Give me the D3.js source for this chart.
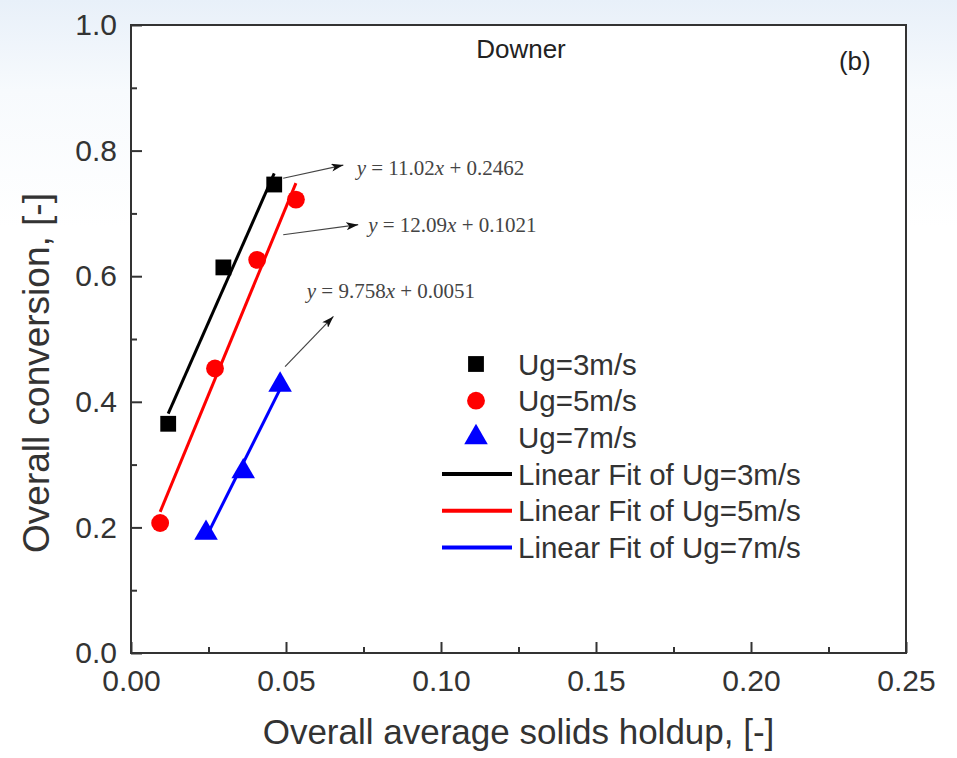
<!DOCTYPE html>
<html>
<head>
<meta charset="utf-8">
<script src="https://cdn.jsdelivr.net/npm/d3@7"></script>
<style>
  html, body { margin: 0; padding: 0; background: #fff; }
  svg { display: block; font-family: "Liberation Sans", Arial, sans-serif; }
</style>
</head>
<body>
<svg id="chart" width="957" height="758"></svg>
<script>
// data
const ug3Holdup = [0.0120, 0.0298, 0.0462];
const ug3Conv = [0.365, 0.614, 0.746];
const ug5Holdup = [0.0094, 0.0271, 0.0407, 0.0532];
const ug5Conv = [0.207, 0.453, 0.626, 0.722];
const ug7Holdup = [0.0242, 0.0362, 0.0481];
const ug7Conv = [0.191, 0.289, 0.427];

const seriesNames = ['Ug=3m/s', 'Ug=5m/s', 'Ug=7m/s'];
const seriesColors = ['#000000', '#ff0000', '#0000ff'];
const seriesSymbols = [d3.symbolSquare, d3.symbolCircle, d3.symbolTriangle];
const symbolSizes = [250, 250, 240];

// fit equation text and annotation anchors (data units)
const eqSlopes = ['11.02', '12.09', '9.758'];
const eqIntercepts = ['0.2462', '0.1021', '0.0051'];
const arrowFrom = [[0.0491, 0.756], [0.0491, 0.666], [0.0497, 0.456]];
const arrowTo = [[0.0685, 0.777], [0.0733, 0.682], [0.0653, 0.536]];
const eqAt = [[0.0728, 0.761], [0.0765, 0.671], [0.0567, 0.565]];

const xTicks = [0, 0.05, 0.10, 0.15, 0.20, 0.25];
const yTicks = [0, 0.2, 0.4, 0.6, 0.8, 1.0];
const xMinor = [0.025, 0.075, 0.125, 0.175, 0.225];
const yMinor = [0.1, 0.3, 0.5, 0.7, 0.9];

const width = 957, height = 758;
const margin = { left: 131, right: 51, top: 25, bottom: 105 };
const ink = '#333';

const svg = d3.select('#chart');

const defs = svg.append('defs');
const grad = defs.append('linearGradient')
    .attr('id', 'bg').attr('x1', 0).attr('y1', 0).attr('x2', 0).attr('y2', 1);
grad.append('stop').attr('offset', '0').attr('stop-color', '#e8f0f9');
grad.append('stop').attr('offset', '0.12').attr('stop-color', '#f7fafd');
grad.append('stop').attr('offset', '0.3').attr('stop-color', '#ffffff');
defs.append('marker')
    .attr('id', 'arrow')
    .attr('viewBox', '0 0 12 8')
    .attr('refX', 12).attr('refY', 4)
    .attr('markerWidth', 12).attr('markerHeight', 8)
    .attr('markerUnits', 'userSpaceOnUse')
    .attr('orient', 'auto')
    .append('path')
    .attr('d', 'M0,0 L12,4 L0,8 L3,4 Z')
    .attr('fill', '#111');

svg.append('rect').attr('width', width).attr('height', height).attr('fill', 'url(#bg)');

const x = d3.scaleLinear().domain([0, 0.25]).range([margin.left, width - margin.right]);
const y = d3.scaleLinear().domain([0, 1]).range([height - margin.bottom, margin.top]);

svg.append('rect')
    .attr('x', x(0)).attr('y', y(1))
    .attr('width', x(0.25) - x(0)).attr('height', y(0) - y(1))
    .attr('fill', '#fff');

// axes
const xAxis = svg.append('g')
    .attr('transform', `translate(0,${y(0)})`)
    .call(d3.axisBottom(x).tickValues(xTicks).tickFormat(d3.format('.2f'))
        .tickSizeInner(-11).tickSizeOuter(0).tickPadding(17));
const xMinorAxis = svg.append('g')
    .attr('transform', `translate(0,${y(0)})`)
    .call(d3.axisBottom(x).tickValues(xMinor).tickFormat('')
        .tickSizeInner(-6).tickSizeOuter(0));
const yAxis = svg.append('g')
    .attr('transform', `translate(${x(0)},0)`)
    .call(d3.axisLeft(y).tickValues(yTicks).tickFormat(d3.format('.1f'))
        .tickSizeInner(-11).tickSizeOuter(0).tickPadding(14));
const yMinorAxis = svg.append('g')
    .attr('transform', `translate(${x(0)},0)`)
    .call(d3.axisLeft(y).tickValues(yMinor).tickFormat('')
        .tickSizeInner(-6).tickSizeOuter(0));

[xAxis, xMinorAxis, yAxis, yMinorAxis].forEach(g => {
    g.select('.domain').remove();
    g.selectAll('line').attr('stroke', ink).attr('stroke-width', 2);
    g.selectAll('text')
        .attr('font-family', '"Liberation Sans", Arial, sans-serif')
        .attr('font-size', 30)
        .attr('fill', ink);
});

// frame
svg.append('rect')
    .attr('x', x(0)).attr('y', y(1))
    .attr('width', x(0.25) - x(0)).attr('height', y(0) - y(1))
    .attr('fill', 'none').attr('stroke', ink).attr('stroke-width', 2);

// axis titles
svg.append('text')
    .attr('x', (x(0) + x(0.25)) / 2).attr('y', 744)
    .attr('text-anchor', 'middle')
    .attr('font-size', 35).attr('fill', ink)
    .text('Overall average solids holdup, [-]');

svg.append('text')
    .attr('transform', `translate(49,${(y(0) + y(1)) / 2 + 34}) rotate(-90)`)
    .attr('text-anchor', 'middle')
    .attr('font-size', 37).attr('fill', ink)
    .text('Overall conversion, [-]');

// panel labels
svg.append('text')
    .attr('x', x(0.1258)).attr('y', y(0.948))
    .attr('text-anchor', 'middle')
    .attr('font-size', 26).attr('fill', '#222')
    .text('Downer');
svg.append('text')
    .attr('x', x(0.2335)).attr('y', y(0.929))
    .attr('text-anchor', 'middle')
    .attr('font-size', 26).attr('fill', '#222')
    .text('(b)');

const series = [
    { xs: ug3Holdup, ys: ug3Conv },
    { xs: ug5Holdup, ys: ug5Conv },
    { xs: ug7Holdup, ys: ug7Conv },
].map((s, i) => ({
    name: seriesNames[i],
    color: seriesColors[i],
    symbol: seriesSymbols[i],
    size: symbolSizes[i],
    points: s.xs.map((v, j) => [v, s.ys[j]]),
}));

// least squares fit over the data range
function linearFit(points) {
    const mx = d3.mean(points, p => p[0]);
    const my = d3.mean(points, p => p[1]);
    const sxy = d3.sum(points, p => (p[0] - mx) * (p[1] - my));
    const sxx = d3.sum(points, p => (p[0] - mx) ** 2);
    const b = sxy / sxx;
    const a = my - b * mx;
    const [x0, x1] = d3.extent(points, p => p[0]);
    return [[x0, a + b * x0], [x1, a + b * x1]];
}

const line = d3.line().x(d => x(d[0])).y(d => y(d[1]));

series.forEach(s => {
    svg.append('path')
        .datum(linearFit(s.points))
        .attr('d', line)
        .attr('fill', 'none')
        .attr('stroke', s.color)
        .attr('stroke-width', 3);
});

series.forEach(s => {
    svg.append('g')
        .selectAll('path')
        .data(s.points)
        .enter()
        .append('path')
        .attr('transform', d => `translate(${x(d[0])},${y(d[1])})`)
        .attr('d', d3.symbol().type(s.symbol).size(s.size))
        .attr('fill', s.color);
});

// annotation arrows + equations
eqSlopes.forEach((slope, i) => {
    svg.append('line')
        .attr('x1', x(arrowFrom[i][0])).attr('y1', y(arrowFrom[i][1]))
        .attr('x2', x(arrowTo[i][0])).attr('y2', y(arrowTo[i][1]))
        .attr('stroke', '#444').attr('stroke-width', 1.2)
        .attr('marker-end', 'url(#arrow)');

    const t = svg.append('text')
        .attr('x', x(eqAt[i][0])).attr('y', y(eqAt[i][1]))
        .attr('font-family', '"Liberation Serif", "Times New Roman", serif')
        .attr('font-size', 21).attr('fill', '#444');
    t.append('tspan').attr('font-style', 'italic').text('y');
    t.append('tspan').text(` = ${slope}`);
    t.append('tspan').attr('font-style', 'italic').text('x');
    t.append('tspan').text(` + ${eqIntercepts[i]}`);
});

// legend
const legend = svg.append('g');
const rowY = i => 364 + i * 36.7;

series.forEach((s, i) => {
    legend.append('path')
        .attr('transform', `translate(476,${rowY(i)})`)
        .attr('d', d3.symbol().type(s.symbol).size(s.size))
        .attr('fill', s.color);
    legend.append('text')
        .attr('x', 518).attr('y', rowY(i) + 10.5)
        .attr('font-size', 29.5).attr('fill', ink)
        .text(s.name);
});
series.forEach((s, i) => {
    const yy = rowY(i + 3);
    legend.append('line')
        .attr('x1', 442).attr('x2', 512)
        .attr('y1', yy).attr('y2', yy)
        .attr('stroke', s.color).attr('stroke-width', 4);
    legend.append('text')
        .attr('x', 518).attr('y', yy + 10.5)
        .attr('font-size', 29.5).attr('fill', ink)
        .text('Linear Fit of ' + s.name);
});
</script>
</body>
</html>
